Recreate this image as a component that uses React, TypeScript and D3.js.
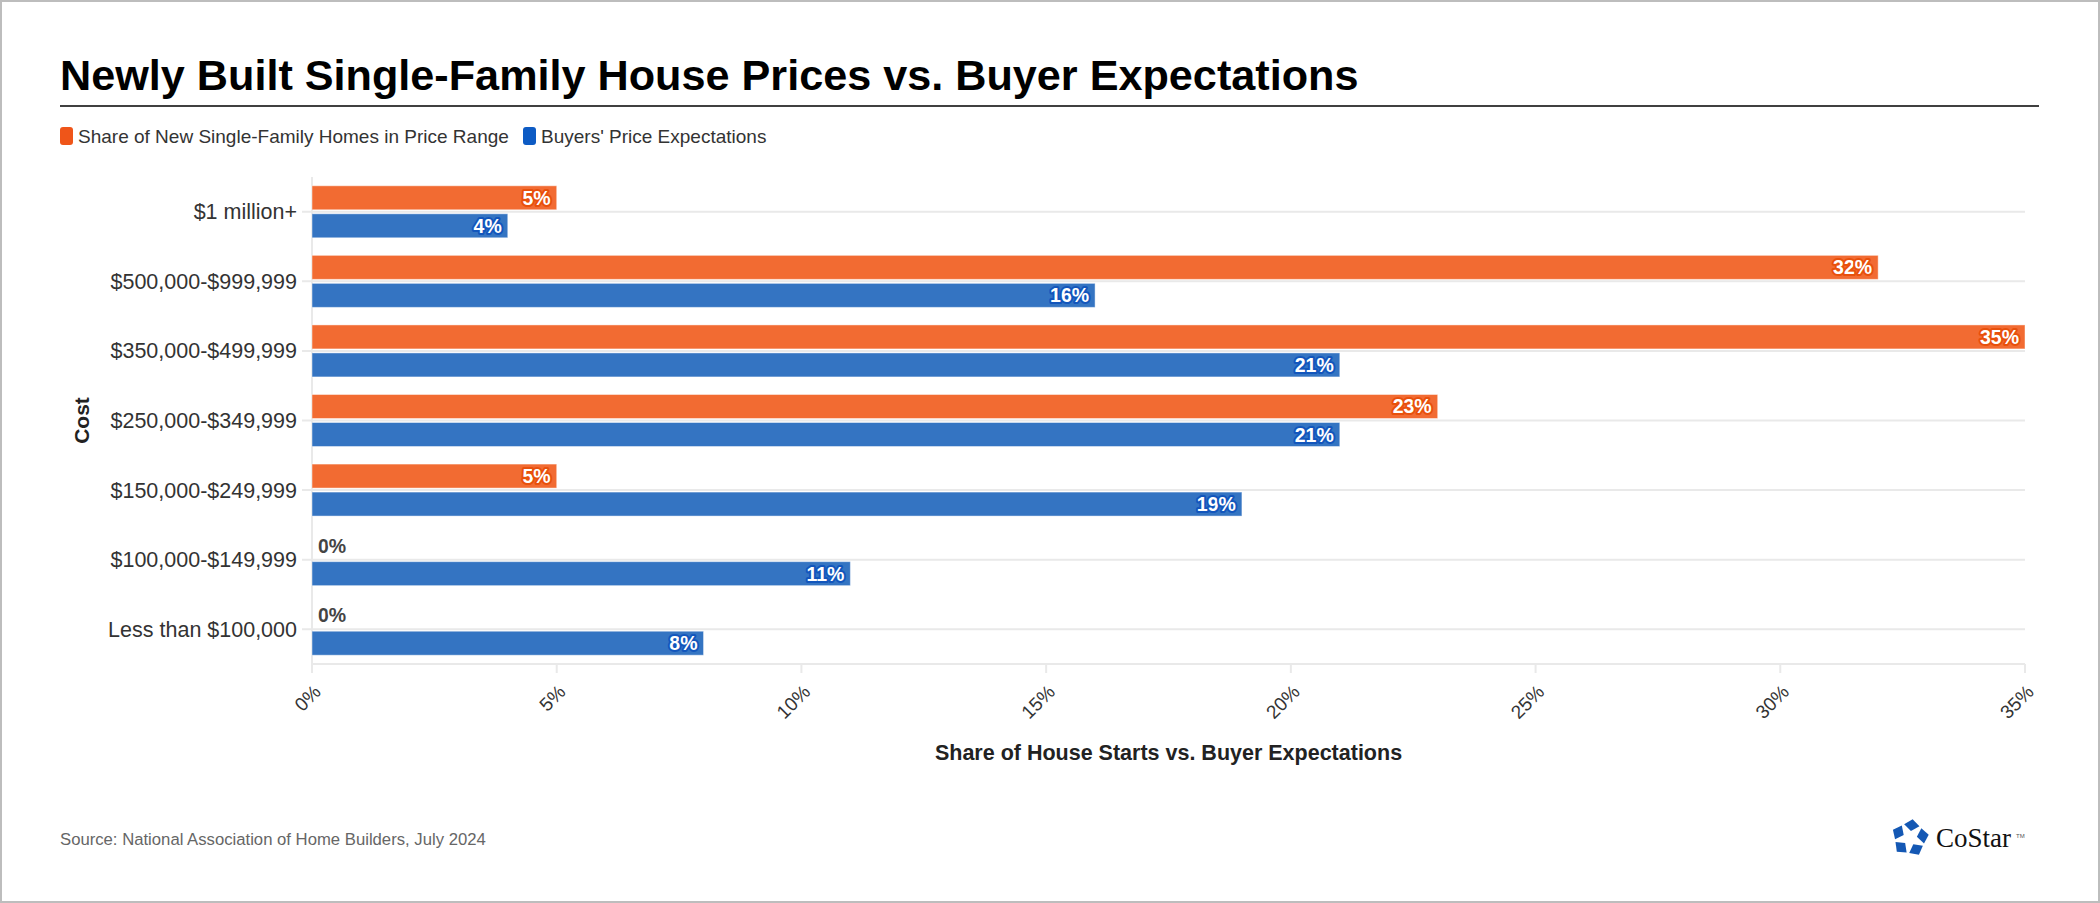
import * as d3 from "d3";

const categories = [
  "$1 million+",
  "$500,000-$999,999",
  "$350,000-$499,999",
  "$250,000-$349,999",
  "$150,000-$249,999",
  "$100,000-$149,999",
  "Less than $100,000",
];
const homesShare = [5, 32, 35, 23, 5, 0, 0];
const buyerExpect = [4, 16, 21, 21, 19, 11, 8];
const seriesNames = [
  "Share of New Single-Family Homes in Price Range",
  "Buyers' Price Expectations",
];
const xTicks = [0, 5, 10, 15, 20, 25, 30, 35];

const W = 2100;
const H = 903;
const FONT = "'Liberation Sans', Arial, sans-serif";

const barColors = ["#F26B32", "#3474C2"];
const legendColors = ["#EF5519", "#0D5BC4"];
const outlineColors = ["#E8500C", "#1256BC"];

export default function App() {
  const margin = { top: 177, right: 2100 - 2025, bottom: 903 - 664, left: 312 };

  const x = d3
    .scaleLinear()
    .domain([0, 35])
    .range([margin.left, W - margin.right]);

  const y = d3
    .scaleBand<string>()
    .domain(categories)
    .range([margin.top, H - margin.bottom])
    .padding(0);

  // orange above the category line, blue below it
  const inner = d3
    .scaleBand<number>()
    .domain([0, 1])
    .range([-26, 26])
    .paddingInner(0.143);

  const rows = categories.map((c, i) => ({
    cat: c,
    vals: [homesShare[i], buyerExpect[i]],
  }));

  const gridColor = "#e9e9e9";
  const y0 = margin.top;
  const y1 = H - margin.bottom;

  // logo kites
  const deg = Math.PI / 180;
  const kites = d3.range(5).map((k) => {
    const a = (-90 + 72 * k + 8) * deg;
    const pt = (ang: number, r: number) => [Math.cos(ang) * r, Math.sin(ang) * r].join(",");
    return `M${pt(a, 19)}L${pt(a + 31 * deg, 15)}L${pt(a, 7)}L${pt(a - 31 * deg, 15)}Z`;
  });

  return (
    <svg
      width={W}
      height={H}
      viewBox={`0 0 ${W} ${H}`}
      style={{ position: "absolute", left: 0, top: 0, background: "#fff" }}
      fontFamily={FONT}
    >
      <rect x={1} y={1} width={W - 2} height={H - 2} fill="#fff" stroke="#bdbdbd" strokeWidth={2} />

      {/* Title */}
      <text x={60} y={90} fontSize={43.2} fontWeight="bold" fill="#000">
        Newly Built Single-Family House Prices vs. Buyer Expectations
      </text>
      <line x1={60} x2={2039} y1={106} y2={106} stroke="#000" strokeWidth={1.3} />

      {/* Legend */}
      <g>
        <rect x={60} y={127} width={13} height={18} rx={3} fill={legendColors[0]} />
        <text x={78} y={143} fontSize={19} fill="#333">
          {seriesNames[0]}
        </text>
        <rect x={523} y={127} width={13} height={18} rx={3} fill={legendColors[1]} />
        <text x={541} y={143} fontSize={19} fill="#333">
          {seriesNames[1]}
        </text>
      </g>

      {/* Grid / axes */}
      {categories.map((c) => {
        const cy = (y(c) ?? 0) + y.bandwidth() / 2;
        return (
          <line key={c} x1={margin.left - 10} x2={x(35)} y1={cy} y2={cy} stroke={gridColor} strokeWidth={2} />
        );
      })}
      <line x1={x(0)} x2={x(0)} y1={y0} y2={y1} stroke={gridColor} strokeWidth={2} />
      <line x1={x(0)} x2={x(35)} y1={y1} y2={y1} stroke={gridColor} strokeWidth={2} />
      {xTicks.map((t) => (
        <line key={t} x1={x(t)} x2={x(t)} y1={y1} y2={y1 + 9} stroke={gridColor} strokeWidth={2} />
      ))}

      {/* Bars */}
      {rows.map((r) => {
        const cy = (y(r.cat) ?? 0) + y.bandwidth() / 2;
        return (
          <g key={r.cat}>
            {r.vals.map((v, si) => {
              const by = cy + (inner(si) ?? 0);
              const bh = inner.bandwidth();
              const xe = x(v);
              const ty = by + bh / 2 + 7;
              return (
                <g key={si}>
                  {v > 0 && (
                    <rect
                      x={x(0)}
                      y={by}
                      width={xe - x(0)}
                      height={bh}
                      fill={barColors[si]}
                      stroke="#fff"
                      strokeOpacity={0.45}
                      strokeWidth={1}
                    />
                  )}
                  {v > 0 ? (
                    <text
                      x={xe - 6}
                      y={ty}
                      textAnchor="end"
                      fontSize={19.5}
                      fontWeight="bold"
                      fill="#fff"
                      stroke={outlineColors[si]}
                      strokeWidth={4}
                      strokeLinejoin="round"
                      paintOrder="stroke"
                    >
                      {v}%
                    </text>
                  ) : (
                    <text
                      x={x(0) + 6}
                      y={ty}
                      textAnchor="start"
                      fontSize={19.5}
                      fontWeight="bold"
                      fill="#444"
                      stroke="#fff"
                      strokeWidth={3}
                      strokeLinejoin="round"
                      paintOrder="stroke"
                    >
                      {v}%
                    </text>
                  )}
                </g>
              );
            })}
          </g>
        );
      })}

      {/* Category labels */}
      {categories.map((c) => {
        const cy = (y(c) ?? 0) + y.bandwidth() / 2;
        return (
          <text key={c} x={297} y={cy + 7.5} textAnchor="end" fontSize={21.5} fill="#333">
            {c}
          </text>
        );
      })}

      {/* X tick labels */}
      {xTicks.map((t) => (
        <text
          key={t}
          transform={`translate(${x(t) + 10},${y1 + 29}) rotate(-45)`}
          textAnchor="end"
          fontSize={19}
          fill="#333"
        >
          {t}%
        </text>
      ))}

      {/* Axis titles */}
      <text x={(x(0) + x(35)) / 2} y={760} textAnchor="middle" fontSize={21.5} fontWeight="bold" fill="#222">
        Share of House Starts vs. Buyer Expectations
      </text>
      <text
        transform={`translate(89,${(y0 + y1) / 2}) rotate(-90)`}
        textAnchor="middle"
        fontSize={21}
        fontWeight="bold"
        fill="#222"
      >
        Cost
      </text>

      {/* Source */}
      <text x={60} y={845} fontSize={16.7} fill="#666">
        Source: National Association of Home Builders, July 2024
      </text>

      {/* CoStar logo */}
      <g transform="translate(1910,838)">
        {kites.map((d, k) => (
          <path key={k} d={d} fill="#1458B4" />
        ))}
      </g>
      <text x={1936} y={847} fontSize={27} fontFamily="'Liberation Serif', 'Times New Roman', serif" fill="#111">
        CoStar
      </text>
      <text x={2016} y={838} fontSize={6} fill="#555">
        TM
      </text>
    </svg>
  );
}
